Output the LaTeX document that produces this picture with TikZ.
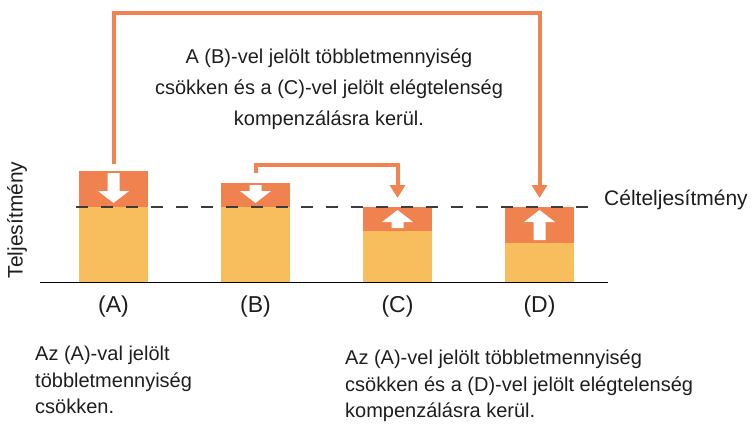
\documentclass[tikz,border=0pt]{standalone}
\usepackage{fontspec}
\setmainfont{Liberation Sans}
\usetikzlibrary{arrows.meta}
\definecolor{orng}{HTML}{F0824F}
\definecolor{conncol}{HTML}{F0834F}
\definecolor{yell}{HTML}{F8BE5E}
\definecolor{dash}{HTML}{3C3C3C}
\definecolor{ink}{HTML}{1E1E1E}
\tikzset{
  ybar/.style={fill=yell, draw=none, minimum width=69pt, inner sep=0pt, anchor=south west},
  obar/.style={fill=orng, draw=none, minimum width=69pt, inner sep=0pt, anchor=south west},
  conn/.style={draw=conncol, line width=4pt, -{Triangle[width=15pt,length=13pt]}},
  warrow/.style={fill=white, draw=none},
  target/.style={draw=dash, line width=1.8pt, dash pattern=on 12pt off 13pt},
  txt/.style={font=\fontsize{20}{31}\selectfont, inner sep=0pt, text=ink},
  axtxt/.style={font=\fontsize{21}{24}\selectfont, inner sep=0pt, text=ink},
  btxt/.style={font=\fontsize{20}{26.5}\selectfont, inner sep=0pt, align=left, anchor=north west, text=ink},
  lbl/.style={font=\fontsize{23}{26}\selectfont, inner sep=0pt, text=ink},
}
\begin{document}
\begin{tikzpicture}[x=1pt,y=-1pt]
\useasboundingbox (0,0) rectangle (755,425);
% bars
\node[ybar, minimum height=75pt] (Ay) at (79,282) {};
\node[obar, minimum height=36pt] (Ao) at (79,207) {};
\node[ybar, minimum height=75pt] (By) at (221,282) {};
\node[obar, minimum height=24pt] (Bo) at (221,207) {};
\node[ybar, minimum height=51pt] (Cy) at (363,282) {};
\node[obar, minimum height=24pt] (Co) at (363,231) {};
\node[ybar, minimum height=39pt] (Dy) at (505,282) {};
\node[obar, minimum height=36pt] (Do) at (505,243) {};
% white arrows
\fill[warrow] (107.5,173) -- (119.5,173) -- (119.5,191) -- (129,191) -- (113.5,203) -- (98,191) -- (107.5,191) -- cycle;
\fill[warrow] (249.5,185) -- (261.5,185) -- (261.5,191) -- (271,191) -- (255.5,203) -- (240,191) -- (249.5,191) -- cycle;
\fill[warrow] (391.5,228) -- (403.5,228) -- (403.5,222) -- (413,222) -- (397.5,210) -- (382,222) -- (391.5,222) -- cycle;
\fill[warrow] (533.5,240) -- (545.5,240) -- (545.5,222) -- (555,222) -- (539.5,210) -- (524,222) -- (533.5,222) -- cycle;
% baseline and target line
\coordinate (bl) at (40,282.5);
\coordinate (br) at (608,282.5);
\draw[line width=1.5pt, black] (bl) -- (br);
\coordinate (tl) at (76,207);
\coordinate (tr) at (596,207);
\draw[target] (tl) -- (tr);
% connectors
\coordinate (A1) at (113.5,164);
\coordinate (A2) at (113.5,13);
\coordinate (D2) at (539.5,13);
\coordinate (D1) at (539.5,198);
\draw[conn] (A1) -- (A2) -- (D2) -- (D1);
\coordinate (B1) at (255.5,173);
\coordinate (B2) at (255.5,165);
\coordinate (C2) at (397.5,165);
\coordinate (C1) at (397.5,198);
\draw[conn] (B1) -- (B2) -- (C2) -- (C1);
% texts
\node[txt, align=center] (top) at (329,89) {A (B)-vel jelölt többletmennyiség\\csökken és a (C)-vel jelölt elégtelenség\\kompenzálásra kerül.};
\node[axtxt, anchor=west] (cel) at (604,200) {Célteljesítmény};
\node[axtxt, rotate=90] (yax) at (17,220) {Teljesítmény};
\node[lbl] (lA) at (113.5,307) {(A)};
\node[lbl] (lB) at (255.5,307) {(B)};
\node[lbl] (lC) at (397.5,307) {(C)};
\node[lbl] (lD) at (539.5,307) {(D)};
\node[btxt] (bl1) at (35,346) {Az (A)-val jelölt\\többletmennyiség\\csökken.};
\node[btxt] (br1) at (345,350) {Az (A)-vel jelölt többletmennyiség\\csökken és a (D)-vel jelölt elégtelenség\\kompenzálásra kerül.};
\end{tikzpicture}
\end{document}
